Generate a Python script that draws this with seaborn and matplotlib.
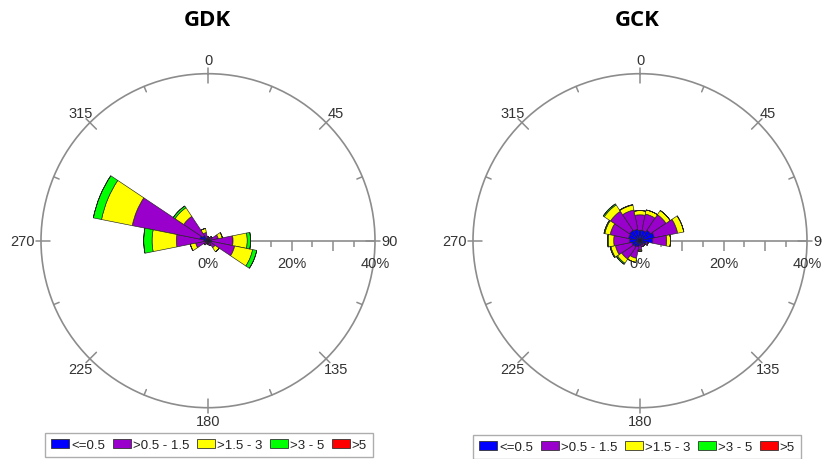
import numpy as np
import matplotlib
matplotlib.use("Agg")
import matplotlib.pyplot as plt
import seaborn as sns
from matplotlib.patches import Patch

sns.set_theme(style="white")
plt.rcParams["font.family"] = ["Liberation Sans", "DejaVu Sans"]

# wind direction sectors (degrees, clockwise from north)
directions = [0, 22.5, 45, 67.5, 90, 112.5, 135, 157.5,
              180, 202.5, 225, 247.5, 270, 292.5, 315, 337.5]

speed_bins = ["<=0.5", ">0.5 - 1.5", ">1.5 - 3", ">3 - 5", ">5"]
bin_colors = ["#0000ff", "#9900cc", "#ffff00", "#00ff00", "#ff0000"]

# frequency (%) per sector for each wind speed class - GDK
gdk_le05 = [0.3, 0.3, 0.4, 0.5, 0.8, 0.8, 0.5, 0.4, 0.3, 0.3, 0.4, 0.6, 1.0, 2.0, 1.5, 0.5]
gdk_05_15 = [0.7, 0.5, 0.8, 2.0, 5.2, 5.7, 1.5, 0.8, 0.5, 0.5, 0.8, 2.4, 6.6, 16.5, 5.5, 1.5]
gdk_15_3 = [0.0, 0.0, 0.0, 1.0, 3.4, 4.4, 1.2, 0.0, 0.0, 0.0, 0.0, 1.3, 5.8, 7.5, 2.5, 1.0]
gdk_3_5 = [0.0, 0.0, 0.0, 0.0, 0.8, 1.0, 0.0, 0.0, 0.0, 0.0, 0.0, 0.0, 2.0, 2.0, 0.5, 0.0]
gdk_gt5 = [0.0] * 16

# frequency (%) per sector for each wind speed class - GCK
gck_le05 = [2.5, 2.5, 3.0, 3.5, 3.0, 1.5, 1.0, 1.0, 1.2, 1.5, 1.8, 2.0, 2.5, 2.8, 3.0, 2.8]
gck_05_15 = [3.7, 4.0, 4.5, 5.7, 3.4, 0.5, 0.5, 0.5, 1.0, 2.8, 3.5, 4.0, 3.8, 4.5, 5.5, 4.7]
gck_15_3 = [1.0, 1.0, 1.2, 1.5, 0.9, 0.0, 0.0, 0.0, 0.3, 1.0, 1.2, 1.1, 1.3, 1.3, 1.8, 1.2]
gck_3_5 = [0.0, 0.0, 0.0, 0.0, 0.0, 0.0, 0.0, 0.0, 0.0, 0.0, 0.3, 0.2, 0.2, 0.2, 0.3, 0.1]
gck_gt5 = [0.0] * 16

RMAX = 40
W, H = 822, 460
GRAY = "#8c8c8c"


def draw_rose(ax, classes, title, cx):
    theta = np.deg2rad(directions)
    width = np.deg2rad(22.5)
    ax.set_theta_zero_location("N")
    ax.set_theta_direction(-1)
    ax.set_ylim(0, RMAX)
    ax.grid(False)
    ax.set_xticks([])
    ax.set_yticks([])
    ax.spines["polar"].set_color(GRAY)
    ax.spines["polar"].set_linewidth(1.2)

    # radial axis along east
    ax.plot([np.pi / 2, np.pi / 2], [0, RMAX], color=GRAY, lw=1.2, zorder=1)
    for r in range(5, RMAX, 5):
        ms = 7.5 if r % 10 == 0 else 4.5
        ax.plot([np.pi / 2], [r], marker=3, ms=ms, mew=1.1, color=GRAY,
                clip_on=False, zorder=1)
    for r in [0, 20, 40]:
        ax.annotate(f"{r}%", xy=(np.pi / 2, r), xytext=(0, -16),
                    textcoords="offset points", ha="center", va="center",
                    fontsize=10.5, color="#333333", annotation_clip=False)

    # ticks on the outer circle
    for d in np.arange(0, 360, 22.5):
        t = np.deg2rad(d)
        if d % 45 == 0:
            ax.plot([t, t], [37.8, 41.3], color=GRAY, lw=1.1, clip_on=False)
        else:
            ax.plot([t, t], [38.6, RMAX], color=GRAY, lw=1.1, clip_on=False)

    # direction labels
    for d in range(0, 360, 45):
        t = np.deg2rad(d)
        if d == 90:
            ax.text(t, 41.6, str(d), ha="left", va="center", fontsize=10.5,
                    color="#333333", clip_on=False)
        elif d == 270:
            ax.text(t, 41.6, str(d), ha="right", va="center", fontsize=10.5,
                    color="#333333", clip_on=False)
        else:
            ax.text(t, 43.3, str(d), ha="center", va="center", fontsize=10.5,
                    color="#333333", clip_on=False)

    bottom = np.zeros(len(directions))
    for vals, col in zip(classes, bin_colors):
        vals = np.asarray(vals)
        ax.bar(theta, vals, width=width, bottom=bottom, color=col,
               edgecolor="#222222", linewidth=0.45, zorder=3)
        bottom = bottom + vals

    fig.text(cx / W, 1 - 20 / H, title, ha="center", va="center",
             fontsize=16, fontweight="bold", family="Open Sans", color="black")


fig = plt.figure(figsize=(W / 100, H / 100), dpi=100)
fig.patch.set_facecolor("white")

R = 167
cy = 241.7
ax1 = fig.add_axes([(208 - R) / W, (H - cy - R) / H, 2 * R / W, 2 * R / H], projection="polar")
ax2 = fig.add_axes([(640 - R) / W, (H - cy - R) / H, 2 * R / W, 2 * R / H], projection="polar")

draw_rose(ax1, [gdk_le05, gdk_05_15, gdk_15_3, gdk_3_5, gdk_gt5], "GDK", 207)
draw_rose(ax2, [gck_le05, gck_05_15, gck_15_3, gck_3_5, gck_gt5], "GCK", 637)

handles = [Patch(facecolor=c, edgecolor="#333333", linewidth=0.6, label=l)
           for c, l in zip(bin_colors, speed_bins)]
for x, y in [(209, 446), (637, 448)]:
    leg = fig.legend(handles=handles, loc="center", bbox_to_anchor=(x / W, 1 - y / H),
                     ncol=5, frameon=True, fancybox=False, fontsize=9.5,
                     handlelength=1.35, handleheight=0.75, handletextpad=0.15,
                     columnspacing=0.6, borderpad=0.45, borderaxespad=0)
    leg.get_frame().set_edgecolor("#999999")
    leg.get_frame().set_linewidth(1.0)
    for t in leg.get_texts():
        t.set_color("#222222")

fig.savefig("out.png", dpi=100, facecolor="white")
